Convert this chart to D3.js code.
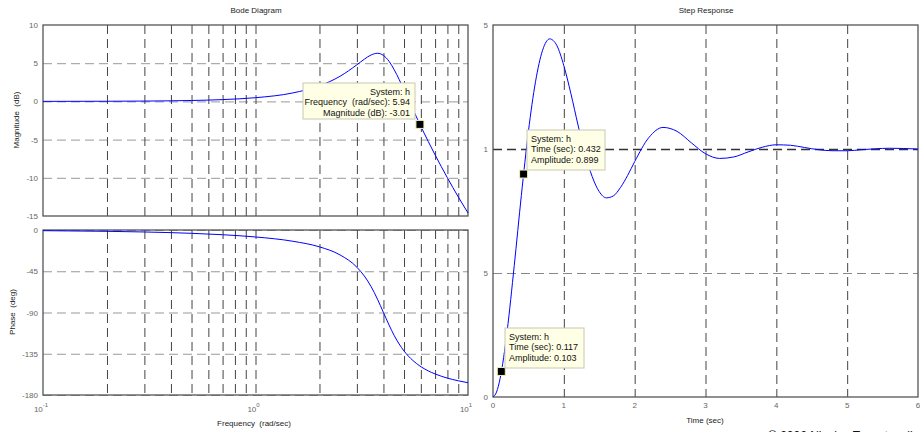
<!DOCTYPE html>
<html lang="en">
<head>
<meta charset="UTF-8">
<script src="https://d3js.org/d3.v7.min.js"></script>
<title>Bode / Step</title>
<style>
  body { margin: 0; background: white; }
  svg { display: block; font-family: "Liberation Sans", Arial, sans-serif; }
  .tick-label { fill: #666; font-size: 8px; }
  .axis-label { fill: #222; font-size: 8px; }
  .tip text { fill: #111; font-size: 9px; }
</style>
</head>
<body>
<svg id="chart"></svg>
<script>
// ---- data ----
const freq      = [0.1, 0.2, 0.3, 0.5, 0.7, 1, 1.5, 2, 2.5, 3, 3.25, 3.5, 3.75, 4, 4.25, 4.5, 5, 5.5, 5.94, 6.5, 7, 8, 9, 10];
const magDb     = [0.005, 0.019, 0.043, 0.119, 0.235, 0.484, 1.11, 2.04, 3.29, 4.79, 5.52, 6.08, 6.30, 6.02, 5.25, 4.12, 1.5, -1.02, -3.01, -5.25, -7.0, -10.0, -12.5, -14.6];
const phaseDeg  = [-0.72, -1.44, -2.16, -3.63, -5.16, -7.59, -12.3, -18.4, -27.2, -40.6, -50.1, -61.8, -75.5, -90, -103.6, -115.3, -132.0, -142.3, -148.4, -153.7, -157.0, -161.6, -164.5, -166.6];

const stepTime  = [0, 0.05, 0.1, 0.2, 0.3, 0.4, 0.5, 0.6, 0.7, 0.8, 0.9, 1.0, 1.1, 1.2, 1.3, 1.4, 1.5, 1.6, 1.7, 1.8, 1.9, 2.0,
                   2.2, 2.4, 2.6, 2.8, 3.0, 3.2, 3.4, 3.6, 3.8, 4.0, 4.2, 4.4, 4.6, 4.8, 5.0, 5.2, 5.4, 5.6, 5.8, 6.0];
const stepAmp   = [0, 0.02, 0.074, 0.267, 0.530, 0.812, 1.071, 1.271, 1.398, 1.444, 1.418, 1.336, 1.223, 1.097, 0.980, 0.889, 0.828, 0.803, 0.811, 0.845, 0.893, 0.949,
                   1.046, 1.087, 1.071, 1.025, 0.981, 0.962, 0.968, 0.988, 1.007, 1.017, 1.015, 1.006, 0.997, 0.993, 0.993, 0.997, 1.001, 1.003, 1.002, 1.000];

const freqGrid   = [0.2, 0.3, 0.4, 0.5, 0.6, 0.7, 0.8, 0.9, 1, 2, 3, 4, 5, 6, 7, 8, 9];
const freqLabels = [[0.1, "-1"], [1, "0"], [10, "1"]];
const magTicks   = [10, 5, 0, -5, -10, -15];
const phaseTicks = [0, -45, -90, -135, -180];
const timeTicks  = [0, 1, 2, 3, 4, 5, 6];
const ampTicks   = [1.5, 1, 0.5, 0];
const ampLabels  = ["5", "1", "5", "0"];

const bodeMarker = { w: 5.94, db: -3.01 };
const stepMarkers = [ { t: 0.432, a: 0.899 }, { t: 0.117, a: 0.103 } ];

// ---- layout ----
const W = 920, H = 432;
const svg = d3.select("#chart").attr("width", W).attr("height", H);

const x = d3.scaleLog().domain([0.1, 10]).range([43, 468]);
const yMag = d3.scaleLinear().domain([-15, 10]).range([216, 25]);
const yPh = d3.scaleLinear().domain([-180, 0]).range([395, 230]);
const xT = d3.scaleLinear().domain([0, 6]).range([493, 918]);
const yA = d3.scaleLinear().domain([0, 1.5]).range([397, 25]);

const dash = "9,5";

function vGrid(xs, vals, y0, y1, color) {
  const g = svg.append("g").attr("transform", `translate(0,${y1})`)
    .call(d3.axisBottom(xs).tickValues(vals).tickSize(y0 - y1).tickFormat(""));
  g.select(".domain").remove();
  g.selectAll("line").attr("stroke", color).attr("stroke-dasharray", dash);
}
function hGrid(ys, vals, x0, x1, color, width) {
  const g = svg.append("g").attr("transform", `translate(${x0},0)`)
    .call(d3.axisRight(ys).tickValues(vals).tickSize(x1 - x0).tickFormat(""));
  g.select(".domain").remove();
  g.selectAll("line").attr("stroke", color).attr("stroke-dasharray", dash).attr("stroke-width", width || 1);
}
function frame(x0, y0, x1, y1) {
  svg.append("rect").attr("x", x0).attr("y", y0).attr("width", x1 - x0).attr("height", y1 - y0)
    .attr("fill", "none").attr("stroke", "#555").attr("stroke-width", 1.3);
}
function yLabels(ys, vals, xr, texts) {
  svg.append("g").selectAll("text").data(vals).join("text")
    .attr("class", "tick-label").attr("x", xr).attr("y", d => ys(d) + 3)
    .attr("text-anchor", "end").text((d, i) => texts ? texts[i] : d);
}
function marker(px, py) {
  svg.append("rect").attr("x", px - 4).attr("y", py - 4).attr("width", 8).attr("height", 8)
    .attr("fill", "#000").attr("stroke", "#f3f0b8").attr("stroke-width", 1);
}
function tip(x0, y0, w, h, lines, anchor) {
  const g = svg.append("g").attr("class", "tip");
  g.append("rect").attr("x", x0).attr("y", y0).attr("width", w).attr("height", h)
    .attr("fill", "#ffffe6").attr("stroke", "#c8c8b4").attr("stroke-width", 1);
  const tx = anchor === "end" ? x0 + w - 5 : x0 + 4;
  lines.forEach((s, i) => {
    g.append("text").attr("x", tx).attr("y", y0 + 11.5 + i * 10.5)
      .attr("text-anchor", anchor).attr("xml:space", "preserve").text(s);
  });
}

// ---- Bode magnitude ----
hGrid(yMag, [5, 0, -5, -10], 43, 468, "#999");
vGrid(x, freqGrid, 216, 25, "#444");
frame(43, 25, 468, 216);
yLabels(yMag, magTicks, 38);

svg.append("path")
  .datum(freq.map((f, i) => [f, magDb[i]]))
  .attr("fill", "none").attr("stroke", "#0000ff").attr("stroke-width", 1)
  .attr("d", d3.line().x(d => x(d[0])).y(d => yMag(d[1])).curve(d3.curveMonotoneX));

// ---- Bode phase ----
hGrid(yPh, [0, -45, -90, -135, -180], 43, 468, "#999");
vGrid(x, freqGrid, 395, 230, "#444");
frame(43, 230, 468, 395);
yLabels(yPh, phaseTicks, 38);

svg.append("path")
  .datum(freq.map((f, i) => [f, phaseDeg[i]]))
  .attr("fill", "none").attr("stroke", "#0000ff").attr("stroke-width", 1)
  .attr("d", d3.line().x(d => x(d[0])).y(d => yPh(d[1])).curve(d3.curveMonotoneX));

// frequency labels 10^n
const fl = svg.append("g").selectAll("text").data(freqLabels).join("text")
  .attr("class", "tick-label").attr("x", d => x(d[0]) - 2).attr("y", 412).attr("text-anchor", "middle");
fl.append("tspan").text("10");
fl.append("tspan").attr("dy", -5).attr("font-size", "6px").text(d => d[1]);

svg.append("text").attr("class", "axis-label").attr("x", 254).attr("y", 426)
  .attr("text-anchor", "middle").attr("xml:space", "preserve").text("Frequency  (rad/sec)");
svg.append("text").attr("class", "axis-label").attr("transform", "translate(19,120) rotate(-90)")
  .attr("text-anchor", "middle").attr("xml:space", "preserve").text("Magnitude  (dB)");
svg.append("text").attr("class", "axis-label").attr("transform", "translate(15,312) rotate(-90)")
  .attr("text-anchor", "middle").attr("xml:space", "preserve").text("Phase  (deg)");
svg.append("text").attr("class", "axis-label").attr("x", 256).attr("y", 13)
  .attr("text-anchor", "middle").text("Bode Diagram");

marker(x(bodeMarker.w), yMag(bodeMarker.db));
tip(303, 83, 112, 36, ["System: h", "Frequency  (rad/sec): 5.94", "Magnitude (dB): -3.01"], "end");

// ---- Step response ----
hGrid(yA, [0.5], 493, 918, "#888");
hGrid(yA, [1], 493, 918, "#333", 1.4);
vGrid(xT, [1, 2, 3, 4, 5], 397, 25, "#444");
frame(493, 25, 918, 397);
yLabels(yA, ampTicks, 488, ampLabels);

svg.append("g").selectAll("text").data(timeTicks).join("text")
  .attr("class", "tick-label").attr("x", d => xT(d)).attr("y", 408)
  .attr("text-anchor", "middle").text(d => d);

svg.append("path")
  .datum(stepTime.map((t, i) => [t, stepAmp[i]]))
  .attr("fill", "none").attr("stroke", "#0000ff").attr("stroke-width", 1)
  .attr("d", d3.line().x(d => xT(d[0])).y(d => yA(d[1])).curve(d3.curveMonotoneX));

svg.append("text").attr("class", "axis-label").attr("x", 705).attr("y", 423)
  .attr("text-anchor", "middle").text("Time (sec)");
svg.append("text").attr("class", "axis-label").attr("x", 706).attr("y", 13)
  .attr("text-anchor", "middle").text("Step Response");

stepMarkers.forEach(m => marker(xT(m.t), yA(m.a)));
tip(527, 130, 78, 40, ["System: h", "Time (sec): 0.432", "Amplitude: 0.899"], "start");
tip(505, 328, 79, 40, ["System: h", "Time (sec): 0.117", "Amplitude: 0.103"], "start");

svg.append("text").attr("x", 768).attr("y", 440).attr("font-size", "12px").attr("fill", "#111")
  .text("© 2006 Nicolas Tsapatsoulis");
</script>
</body>
</html>
